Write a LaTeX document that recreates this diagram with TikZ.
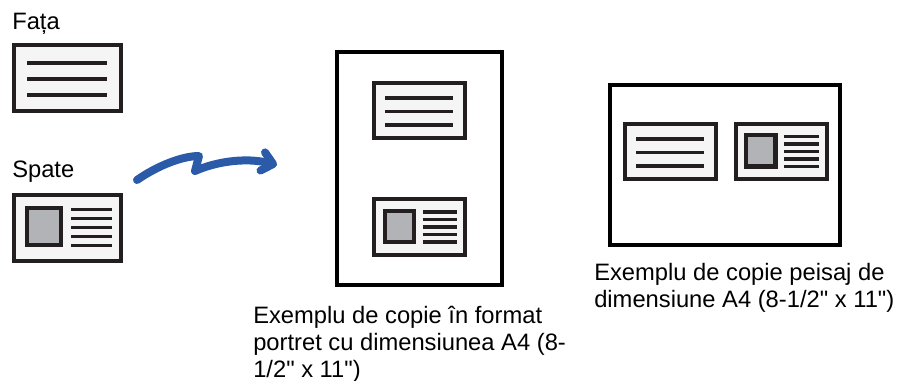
\documentclass[tikz,border=0pt]{standalone}
\usepackage{fontspec}
\setmainfont{Liberation Sans}
\usetikzlibrary{arrows.meta,calc}
\definecolor{cdInk}{HTML}{231f20}
\definecolor{cdPaper}{HTML}{f5f5f5}
\definecolor{cdPhoto}{HTML}{b1b3b6}
\definecolor{cdBlue}{HTML}{2b5ba8}
% three text rules on the front of a card
\newcommand{\cardfront}[1]{%
  \foreach \fy in {0.27,0.515,0.76}
    \draw[txtline] let \p1=(#1.north west), \p2=(#1.south east) in
      ({\x1+0.125*(\x2-\x1)},{\y1+\fy*(\y2-\y1)}) -- ({\x1+0.87*(\x2-\x1)},{\y1+\fy*(\y2-\y1)});
}
% photo and five text rules on the back of a card
\newcommand{\cardback}[1]{%
  \draw[photo] let \p1=(#1.north west), \p2=(#1.south east) in
    ({\x1+0.12*(\x2-\x1)},{\y1+0.21*(\y2-\y1)}) rectangle ({\x1+0.44*(\x2-\x1)},{\y1+0.77*(\y2-\y1)});
  \foreach \fy in {0.23,0.365,0.5,0.635,0.77}
    \draw[txtline] let \p1=(#1.north west), \p2=(#1.south east) in
      ({\x1+0.535*(\x2-\x1)},{\y1+\fy*(\y2-\y1)}) -- ({\x1+0.915*(\x2-\x1)},{\y1+\fy*(\y2-\y1)});
}

\begin{document}
\begin{tikzpicture}[
  x=0.75pt, y=-0.75pt,
  font=\fontsize{17.8}{20.25}\selectfont,
  page/.style={draw=black, line width=3.2pt, fill=white, inner sep=0pt, outer sep=0pt},
  card/.style={draw=cdInk, line width=3pt, fill=cdPaper, inner sep=0pt, outer sep=0pt},
  bigcard/.style={card, minimum width=80.25pt, minimum height=49.5pt},
  smallcard/.style={card, minimum width=68.25pt, minimum height=41.6pt},
  txtline/.style={cdInk, line width=2.7pt},
  photo/.style={draw=cdInk, fill=cdPhoto, line width=3.1pt},
  lbl/.style={align=left, anchor=base west, inner sep=0pt},
  flow/.style={cdBlue, line width=6pt, line cap=round, line join=round,
    -{Straight Barb[round, length=8pt, width=14pt]}},
]
\useasboundingbox (0,0) rectangle (897,380);
% original card, both sides
\node[lbl] (fatalbl) at (12,29) {Fața};
\node[bigcard] (fata) at (67.5,78) {};
\cardfront{fata}
\node[lbl] (spatelbl) at (12,177) {Spate};
\node[bigcard] (spate) at (67.5,227.5) {};
\cardback{spate}
% arrow
\coordinate (a0) at (137,180);
\coordinate (a1) at (199,156);
\coordinate (a2) at (195,171);
\coordinate (a3) at (277,165);
\draw[flow] (a0) .. controls (157,166) and (182,156) .. (a1) -- (a2)
  .. controls (215,162) and (245,157) .. (a3);
% portrait copy
\node[page, minimum width=123.75pt, minimum height=174.75pt] (portrait) at (419.5,168.5) {};
\node[smallcard] (pfront) at (419.5,110.5) {};
\cardfront{pfront}
\node[smallcard] (pback) at (419.5,227) {};
\cardback{pback}
% base anchor of a multi-line label = baseline of its last line
\node[lbl] (plbl) at (253,377) {Exemplu de copie în format\\portret cu dimensiunea A4 (8-\\1/2\textquotedbl{} x 11\textquotedbl{})};
% landscape copy
\node[page, minimum width=172.5pt, minimum height=120pt] (landscape) at (725,165) {};
\node[smallcard] (lfront) at (670.5,151.5) {};
\cardfront{lfront}
\node[smallcard] (lback) at (781,151.5) {};
\cardback{lback}
\node[lbl] (llbl) at (594,307) {Exemplu de copie peisaj de\\dimensiune A4 (8-1/2\textquotedbl{} x 11\textquotedbl{})};
\end{tikzpicture}
\end{document}
